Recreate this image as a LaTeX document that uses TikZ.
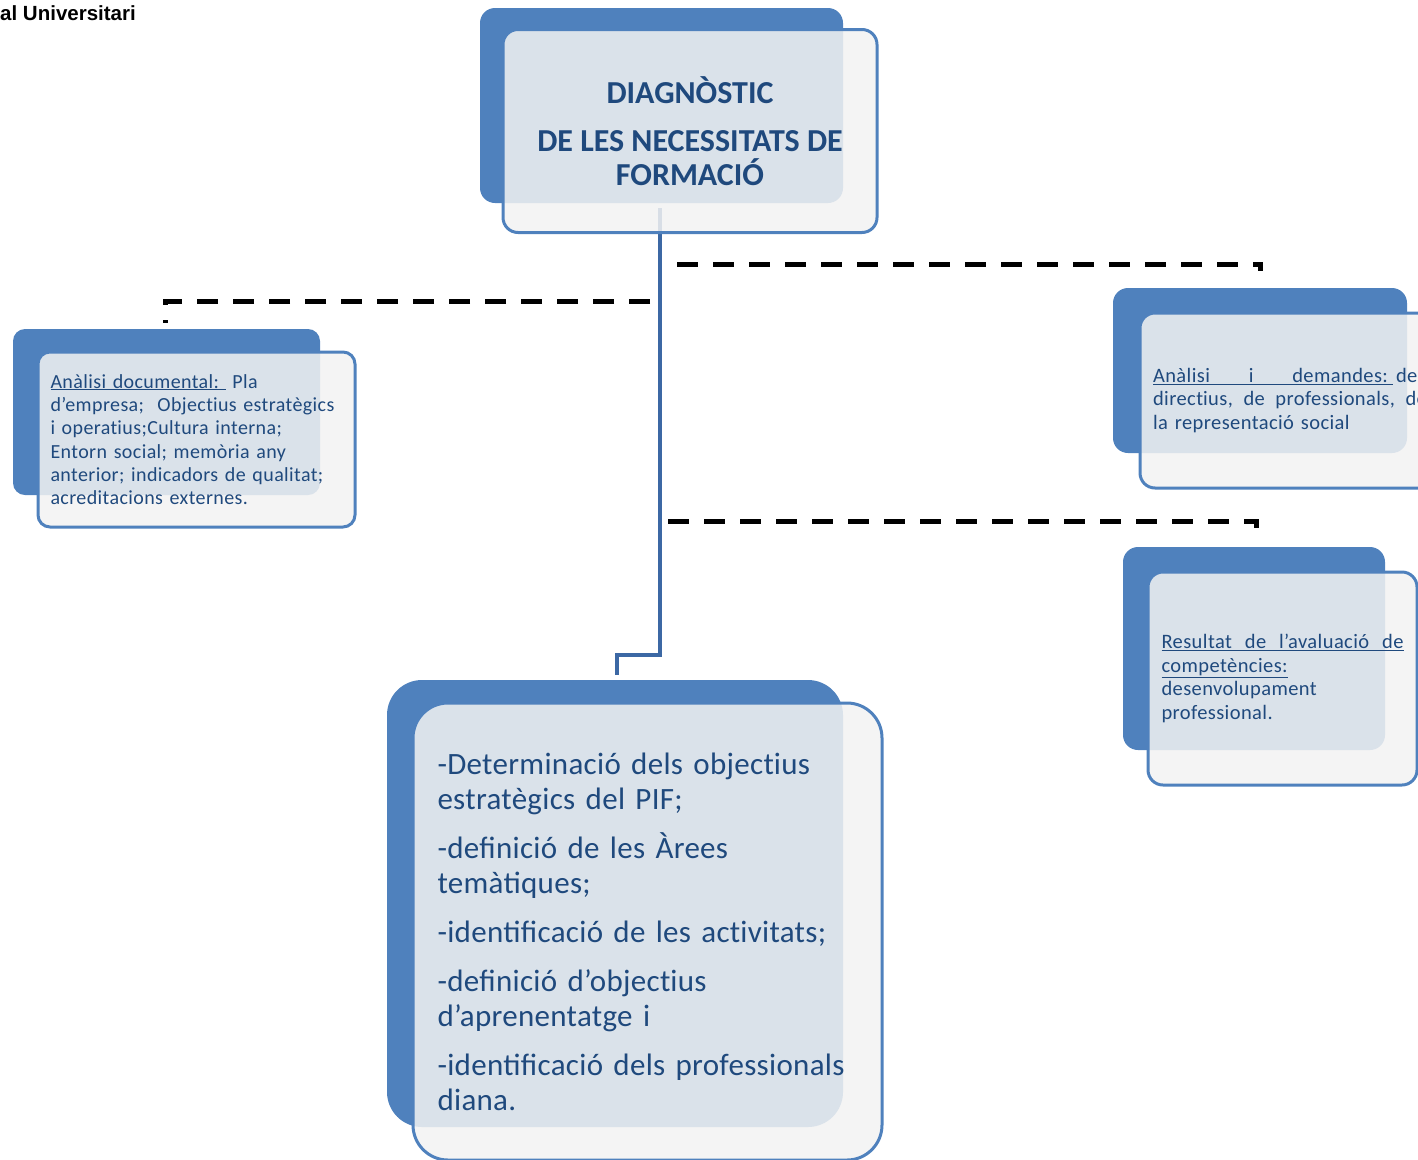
\documentclass[tikz,border=0pt]{standalone}
\usepackage{fontspec}
\setmainfont{Carlito}
\newfontfamily\intestazione{Liberation Sans}
\usetikzlibrary{positioning}

\definecolor{bluscuro}{HTML}{1F497D}
\definecolor{blupannello}{HTML}{4F81BD}
\definecolor{blulinea}{HTML}{3C68A4}
\definecolor{grigiochiaro}{HTML}{F2F2F2}

% "ti" senza legatura
\newcommand{\tinol}{t\kern0pt i}

\tikzset{
  fondo/.style={rounded corners=#1, fill=blupannello, inner sep=0pt},
  fondo/.default=15pt,
  pannello/.style={rounded corners=#1, draw=blupannello, line width=3pt,
    fill=grigiochiaro, fill opacity=0.86, text opacity=1, text=bluscuro, inner sep=0pt},
  pannello/.default=15pt,
  tratteggio/.style={line width=5pt, dash pattern=on 21pt off 15pt},
  tronco/.style={blulinea, line width=4pt},
}

\begin{document}
\begin{tikzpicture}[x=1pt, y=-1pt]
	% Cornice del disegno
	\useasboundingbox (0,0) rectangle (1418,1159);
	\clip (0,0) rectangle (1418,1159);
	
	% --- Intestazione ---
	\node[anchor=base west, inner sep=0pt, font=\intestazione\bfseries\fontsize{20.5}{24}\selectfont] (testata) at (0,20) {al Universitari};
	
	% --- Riquadri di fondo (blu) ---
	\node[fondo, minimum width=363pt, minimum height=195pt] (diagfondo) at (661.5,105.5) {};
	\node[fondo=12pt, minimum width=307pt, minimum height=166pt] (docfondo) at (166.5,412) {};
	\node[fondo, minimum width=294pt, minimum height=165pt] (demfondo) at (1260,370.5) {};
	\node[fondo, minimum width=262pt, minimum height=203pt] (resfondo) at (1254,648.5) {};
	\node[fondo=35pt, minimum width=456pt, minimum height=447pt] (piafondo) at (615,903.5) {};
	
	% --- Connettori ---
	% Tronco centrale dal diagnostico al riquadro finale
	\coordinate (t0) at (660,208);
	\coordinate (t1) at (660,655);
	\coordinate (t2) at (617,655);
	\coordinate (t3) at (617,675);
	\draw[tronco] (t0) -- (t1) -- (t2) -- (t3);
	
	% Rami tratteggiati verso le fonti
	\coordinate (sx0) at (650,301);
	\coordinate (sx1) at (165,301);
	\coordinate (sx2) at (165,323);
	\draw[tratteggio] (sx0) -- (sx1) -- (sx2);
	\coordinate (dx0) at (677,264);
	\coordinate (dx1) at (1260,264);
	\coordinate (dx2) at (1260,271);
	\draw[tratteggio] (dx0) -- (dx1) -- (dx2);
	\coordinate (ri0) at (668,521);
	\coordinate (ri1) at (1256,521);
	\coordinate (ri2) at (1256,528);
	\draw[tratteggio] (ri0) -- (ri1) -- (ri2);
	
	% --- Pannelli con testo ---
	\node[pannello, minimum width=374pt, minimum height=203pt, align=center,
	      font=\bfseries\fontsize{32}{34}\selectfont] (diag) at (690,131)
	      {DIAGNÒSTIC\\[14pt] DE LES NECESSITATS DE\\ FORMACIÓ};
	
	\node[pannello=12pt, minimum width=317pt, minimum height=175pt, text width=292pt, align=left,
	      font=\fontsize{20}{23.3}\selectfont\addfontfeatures{LetterSpace=2}] (doc) at (196.5,439.5)
	      {\underline{Anàlisi documental:\ }\ Pla\\
	       d’empresa;\ \ Objec\tinol us estratègics\\
	       i opera\tinol us;Cultura interna;\\
	       Entorn social; memòria any\\
	       anterior; indicadors de qualitat;\\
	       acreditacions externes.};
	
	\node[pannello, minimum width=300pt, minimum height=175pt, text width=274pt, align=left,
	      font=\fontsize{20.5}{23.3}\selectfont\addfontfeatures{LetterSpace=2}] (dem) at (1290,400.5)
	      {\underline{\makebox[240pt][l]{Anàlisi\hfill i\hfill demandes:\hspace{5pt}}}\hspace{3pt}del\\
	       \makebox[274pt][l]{direc\tinol us,\hfill de\hfill professionals,\hfill de}\\
	       la representació social};
	
	\node[pannello, minimum width=269pt, minimum height=213pt, text width=242pt, align=left,
	      font=\fontsize{20.5}{23.5}\selectfont\addfontfeatures{LetterSpace=2}] (res) at (1282.5,678.5)
	      {\underline{\makebox[242pt][l]{Resultat\hfill de\hfill l’avaluació\hfill de}}\\
	       \underline{competències:}\\
	       desenvolupament\\
	       professional.};
	
	\node[pannello=35pt, minimum width=469pt, minimum height=457pt, text width=420pt, align=left,
	      font=\fontsize{31}{35}\selectfont\addfontfeatures{LetterSpace=1}] (pia) at (647.5,931.5)
	      {-Determinació dels objec\tinol us\\ estratègics del PIF;\\[14pt]
	       -definició de les Àrees\\ temàtiques;\\[14pt]
	       -identificació de les ac\tinol vitats;\\[14pt]
	       -definició d’objec\tinol us\\ d’aprenentatge i\\[14pt]
	       -identificació dels professionals\\ diana.};
\end{tikzpicture}
\end{document}
